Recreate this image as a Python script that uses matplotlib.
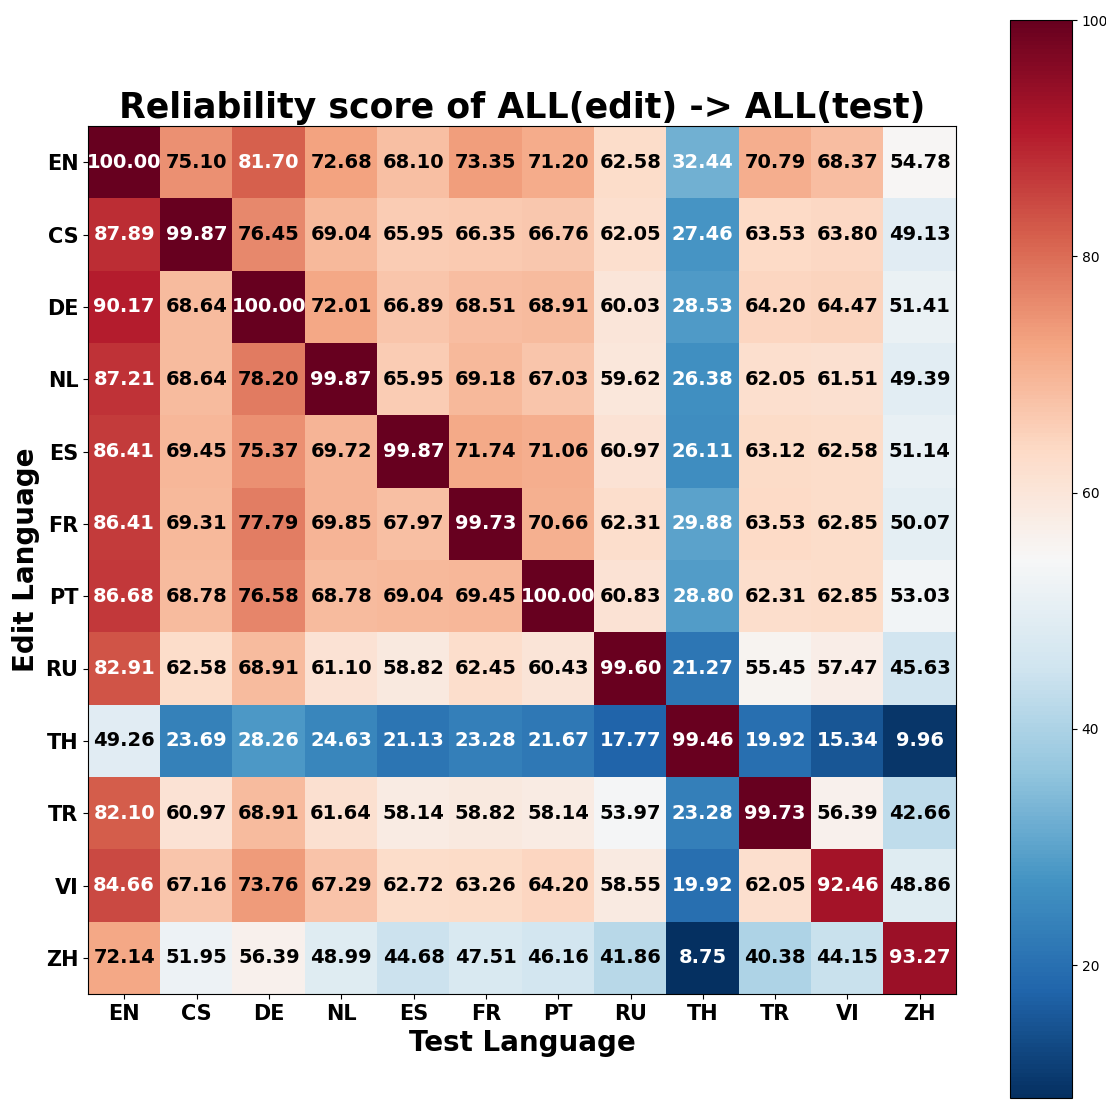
import matplotlib
matplotlib.use("Agg")
import matplotlib.pyplot as plt
import numpy as np

langs = ["EN", "CS", "DE", "NL", "ES", "FR", "PT", "RU", "TH", "TR", "VI", "ZH"]

scores = np.array([
    [100.00, 75.10, 81.70, 72.68, 68.10, 73.35, 71.20, 62.58, 32.44, 70.79, 68.37, 54.78],
    [87.89, 99.87, 76.45, 69.04, 65.95, 66.35, 66.76, 62.05, 27.46, 63.53, 63.80, 49.13],
    [90.17, 68.64, 100.00, 72.01, 66.89, 68.51, 68.91, 60.03, 28.53, 64.20, 64.47, 51.41],
    [87.21, 68.64, 78.20, 99.87, 65.95, 69.18, 67.03, 59.62, 26.38, 62.05, 61.51, 49.39],
    [86.41, 69.45, 75.37, 69.72, 99.87, 71.74, 71.06, 60.97, 26.11, 63.12, 62.58, 51.14],
    [86.41, 69.31, 77.79, 69.85, 67.97, 99.73, 70.66, 62.31, 29.88, 63.53, 62.85, 50.07],
    [86.68, 68.78, 76.58, 68.78, 69.04, 69.45, 100.00, 60.83, 28.80, 62.31, 62.85, 53.03],
    [82.91, 62.58, 68.91, 61.10, 58.82, 62.45, 60.43, 99.60, 21.27, 55.45, 57.47, 45.63],
    [49.26, 23.69, 28.26, 24.63, 21.13, 23.28, 21.67, 17.77, 99.46, 19.92, 15.34, 9.96],
    [82.10, 60.97, 68.91, 61.64, 58.14, 58.82, 58.14, 53.97, 23.28, 99.73, 56.39, 42.66],
    [84.66, 67.16, 73.76, 67.29, 62.72, 63.26, 64.20, 58.55, 19.92, 62.05, 92.46, 48.86],
    [72.14, 51.95, 56.39, 48.99, 44.68, 47.51, 46.16, 41.86, 8.75, 40.38, 44.15, 93.27],
])

W, H = 1106, 1112
fig = plt.figure(figsize=(W / 100, H / 100), dpi=100)
ax = fig.add_axes([88 / W, (H - 994) / H, 868 / W, 868 / H])
cax = fig.add_axes([1010 / W, (H - 1098) / H, 62 / W, 1078 / H])

im = ax.imshow(scores, cmap="RdBu_r", aspect="auto")
cb = fig.colorbar(im, cax=cax)
cb.set_ticks([20, 40, 60, 80, 100])

for i in range(len(langs)):
    for j in range(len(langs)):
        v = scores[i, j]
        color = "white" if (v > 80 or v < 35) else "black"
        ax.text(j, i, f"{v:.2f}", ha="center", va="center",
                color=color, fontsize=14, fontweight="bold")

ax.set_xticks(range(len(langs)))
ax.set_yticks(range(len(langs)))
ax.set_xticklabels(langs, fontsize=15, fontweight="bold")
ax.set_yticklabels(langs, fontsize=15, fontweight="bold")
ax.set_xlabel("Test Language", fontsize=20, fontweight="bold")
ax.set_ylabel("Edit Language", fontsize=20, fontweight="bold")
ax.set_title("Reliability score of ALL(edit) -> ALL(test)", fontsize=25, fontweight="bold")

fig.savefig("out.png", dpi=100)
